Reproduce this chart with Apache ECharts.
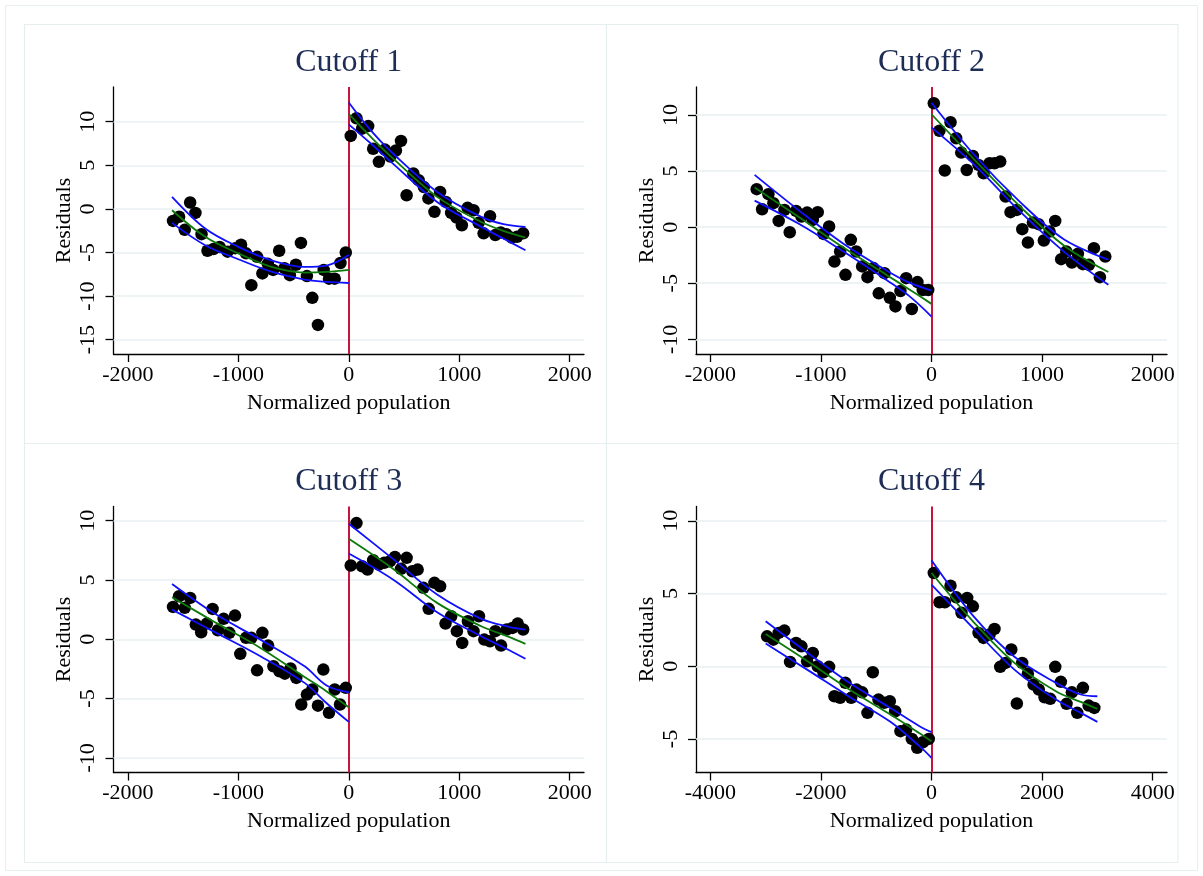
<!DOCTYPE html>
<html><head><meta charset="utf-8">
<script src="https://cdn.jsdelivr.net/npm/echarts@6/dist/echarts.min.js"></script>
<style>html,body{margin:0;padding:0;background:#fff}#c{width:1203px;height:876px}</style>
</head><body><div id="c"></div>
<script>
// ---------------- DATA ----------------
const titles = ['Cutoff 1', 'Cutoff 2', 'Cutoff 3', 'Cutoff 4'];
const xName = 'Normalized population';
const yName = 'Residuals';

const xTicksA = [-2000, -1000, 0, 1000, 2000];
const xTicksB = [-4000, -2000, 0, 2000, 4000];
const yTicks1 = [-15, -10, -5, 0, 5, 10];
const yTicks2 = [-10, -5, 0, 5, 10];
const yTicks3 = [-10, -5, 0, 5, 10];
const yTicks4 = [-5, 0, 5, 10];

// Cutoff 1 binned residuals
const c1x = [-1591,-1536,-1485,-1436,-1388,-1333,-1279,-1225,-1170,-1097,-1027,-975,-930,-882,-830,-782,-733,-685,-630,-582,-533,-479,-433,-379,-330,-279,-227,-179,-127,-75,-27,
  18,70,120,176,221,273,327,376,427,473,524,585,633,680,721,776,827,879,927,976,1024,1076,1130,1176,1221,1279,1327,1376,1427,1476,1524,1579];
const c1y = [-1.38,-0.9,-2.4,0.73,-0.46,-2.9,-4.8,-4.6,-4.36,-4.9,-4.5,-4.1,-5.1,-8.75,-5.5,-7.4,-6.3,-7.0,-4.8,-6.8,-7.6,-6.4,-3.9,-7.7,-10.2,-13.3,-7.0,-8.0,-8.0,-6.2,-5.0,
  8.37,10.4,9.2,9.5,6.9,5.4,6.8,6.0,6.7,7.8,1.57,4.06,3.3,2.5,1.2,-0.34,1.95,0.8,-0.46,-1.0,-1.87,0.12,-0.15,-1.6,-2.8,-0.84,-3.0,-2.7,-2.9,-3.3,-3.2,-2.8];
const c1LeftX = [-1600,-1300,-1000,-700,-400,-200,0];
const c1LeftFit = [-0.15,-3.2,-5.1,-6.65,-7.3,-7.22,-7.0];
const c1LeftHi  = [1.38,-2.25,-4.36,-5.9,-6.65,-6.5,-5.3];
const c1LeftLo  = [-1.6,-4.16,-5.77,-7.2,-8.1,-8.37,-8.5];
const c1RightX = [0,200,400,800,1200,1400,1600];
const c1RightFit = [10.9,8.26,5.8,1.38,-1.5,-2.52,-3.3];
const c1RightHi  = [12.2,9.0,6.35,1.95,-0.92,-1.75,-2.06];
const c1RightLo  = [9.7,7.5,5.2,0.8,-2.06,-3.4,-4.74];

// Cutoff 2
const c2x = [-1581,-1532,-1475,-1430,-1382,-1330,-1282,-1225,-1176,-1125,-1074,-1029,-977,-926,-878,-826,-778,-730,-681,-627,-579,-525,-477,-425,-377,-326,-281,-229,-178,-127,-79,-30,
  21,72,120,172,223,269,319,374,425,471,525,570,622,670,715,772,821,872,917,968,1016,1068,1119,1173,1219,1270,1324,1369,1424,1469,1523,1572];
const c2y = [3.39,1.6,2.94,2.14,0.56,1.54,-0.45,1.45,0.95,1.3,0.65,1.34,-0.6,0.06,-3.07,-2.17,-4.25,-1.13,-2.17,-3.5,-4.46,-3.65,-5.9,-4.1,-6.3,-7.07,-5.7,-4.55,-7.3,-4.9,-5.6,-5.6,
  11.05,8.6,5.05,9.36,7.93,6.65,5.1,6.35,5.55,4.8,5.7,5.7,5.85,2.73,1.34,1.54,-0.18,-1.37,0.41,0.27,-1.19,-0.39,0.56,-2.85,-2.17,-3.15,-2.38,-3.3,-3.36,-1.87,-4.46,-2.62];
const c2LeftX = [-1600,-1200,-800,-400,-200,0];
const c2LeftFit = [3.53,0.9,-1.8,-4.3,-5.55,-6.84];
const c2LeftHi  = [4.66,1.5,-1.45,-3.9,-4.95,-5.65];
const c2LeftLo  = [2.37,0.3,-2.15,-4.75,-6.15,-7.97];
const c2RightX = [0,400,800,1200,1600];
const c2RightFit = [10.07,5.9,1.85,-1.65,-4.0];
const c2RightHi  = [11.1,6.3,2.25,-1.1,-2.9];
const c2RightLo  = [8.9,5.45,1.4,-2.2,-5.14];

// Cutoff 3
const c3x = [-1591,-1536,-1485,-1436,-1385,-1336,-1285,-1233,-1185,-1133,-1082,-1030,-982,-930,-882,-830,-782,-730,-682,-627,-579,-527,-475,-430,-379,-330,-279,-230,-179,-127,-79,-27,
  18,70,121,170,221,273,321,373,418,473,524,576,624,676,724,776,827,876,927,979,1027,1079,1130,1179,1227,1279,1327,1379,1430,1482,1530,1579];
const c3y = [2.73,3.63,2.65,3.49,1.24,0.59,1.32,2.56,0.76,1.72,0.54,2.0,-1.23,0.12,0.12,-2.62,0.54,-0.53,-2.28,-2.7,-2.9,-2.47,-3.26,-5.5,-4.67,-4.24,-5.6,-2.56,-6.2,-4.24,-5.5,-4.1,
  6.22,9.8,6.16,5.88,6.67,6.3,6.45,6.58,6.95,5.94,6.87,5.74,5.88,4.34,2.57,4.76,4.47,1.32,1.94,0.68,-0.31,1.52,0.68,1.94,-0.03,-0.17,0.68,-0.53,0.82,0.96,1.32,0.82];
const c3LeftX = [-1600,-1200,-800,-400,-200,0];
const c3LeftFit = [3.55,1.38,-0.73,-3.18,-4.4,-5.74];
const c3LeftHi  = [4.67,2.08,-0.03,-2.28,-3.9,-4.47];
const c3LeftLo  = [2.5,0.54,-1.43,-3.68,-5.4,-6.97];
const c3RightX = [0,400,800,1200,1450,1600];
const c3RightFit = [8.47,5.94,3.07,1.1,0.2,-0.39];
const c3RightHi  = [9.74,6.78,3.77,1.72,1.05,0.82];
const c3RightLo  = [7.23,5.04,2.28,0.25,-0.9,-1.65];

// Cutoff 4
const c4x = [-2974,-2860,-2764,-2661,-2558,-2449,-2353,-2250,-2148,-2058,-1955,-1852,-1756,-1653,-1557,-1453,-1357,-1254,-1158,-1062,-959,-856,-755,-657,-561,-458,-356,-259,-157,-49,
  42,145,241,344,447,543,646,748,851,941,1050,1140,1243,1339,1443,1544,1641,1743,1846,1942,2045,2148,2239,2340,2443,2539,2637,2739,2842,2945];
const c4y = [2.06,1.83,2.29,2.45,0.3,1.6,1.37,0.34,0.92,0.0,-0.41,-0.04,-2.06,-2.17,-1.14,-2.17,-1.6,-1.79,-3.2,-0.41,-2.29,-2.51,-2.4,-3.09,-4.46,-4.35,-4.99,-5.6,-5.22,-4.99,
  6.41,4.4,4.4,5.54,4.74,3.67,4.7,4.12,2.29,1.95,2.18,2.57,-0.04,0.23,1.15,-2.56,0.23,-0.5,-1.26,-1.6,-2.13,-2.24,-0.04,-1.07,-2.58,-1.79,-3.2,-1.48,-2.7,-2.86];
const c4LeftX = [-3000,-2250,-1500,-750,-217,0];
const c4LeftFit = [2.22,0.37,-1.56,-3.3,-4.6,-5.15];
const c4LeftHi  = [3.09,0.95,-1.1,-2.85,-4.12,-4.53];
const c4LeftLo  = [1.56,-0.23,-2.06,-3.8,-5.49,-6.29];
const c4RightX = [0,750,1500,2250,2700,3000];
const c4RightFit = [6.41,3.09,0.23,-1.72,-2.45,-2.93];
const c4RightHi  = [7.28,3.48,0.65,-1.14,-1.94,-2.06];
const c4RightLo  = [5.61,2.64,-0.23,-2.29,-3.2,-3.82];

// ---------------- LAYOUT ----------------
const FONT = "'Liberation Serif','Times New Roman',serif";
const panels = [
  {title: titles[0], px: 24.5, py: 24.5, pw: 582, grid: {left: 113.5, top: 87, width: 470.5, height: 267}, xr: [-2130, 2130], yr: [-16.64, 13.98], xt: xTicksA, yt: yTicks1,
   sx: c1x, sy: c1y, lx: c1LeftX, lf: c1LeftFit, lh: c1LeftHi, ll: c1LeftLo, rx: c1RightX, rf: c1RightFit, rh: c1RightHi, rl: c1RightLo},
  {title: titles[1], px: 606.5, py: 24.5, pw: 571.5, grid: {left: 696, top: 87, width: 471, height: 267}, xr: [-2130, 2130], yr: [-11.31, 12.5], xt: xTicksA, yt: yTicks2,
   sx: c2x, sy: c2y, lx: c2LeftX, lf: c2LeftFit, lh: c2LeftHi, ll: c2LeftLo, rx: c2RightX, rf: c2RightFit, rh: c2RightHi, rl: c2RightLo},
  {title: titles[2], px: 24.5, py: 443.5, pw: 582, grid: {left: 113.5, top: 506.5, width: 470.5, height: 266}, xr: [-2130, 2130], yr: [-11.24, 11.2], xt: xTicksA, yt: yTicks3,
   sx: c3x, sy: c3y, lx: c3LeftX, lf: c3LeftFit, lh: c3LeftHi, ll: c3LeftLo, rx: c3RightX, rf: c3RightFit, rh: c3RightHi, rl: c3RightLo},
  {title: titles[3], px: 606.5, py: 443.5, pw: 571.5, grid: {left: 696, top: 506.5, width: 471, height: 266}, xr: [-4260, 4260], yr: [-7.3, 10.98], xt: xTicksB, yt: yTicks4,
   sx: c4x, sy: c4y, lx: c4LeftX, lf: c4LeftFit, lh: c4LeftHi, ll: c4LeftLo, rx: c4RightX, rf: c4RightFit, rh: c4RightHi, rl: c4RightLo}
];
const PANEL_H = 419;
const BORDER = '#e6eef0';
const GRIDC = '#e8eff2';
const RED = '#c8143c';
const BLUE = '#1010ff';
const GREEN = '#0b7a0b';

const zip = (a, b) => a.map((v, i) => [v, b[i]]);
const plain = v => String(v);

const grids = [], xAxes = [], yAxes = [], series = [];
const graphics = [
  {type: 'rect', shape: {x: 5.5, y: 5.5, width: 1192, height: 865}, style: {fill: '#fff', stroke: BORDER, lineWidth: 1}, z: -10, silent: true}
];

panels.forEach((p, i) => {
  graphics.push({type: 'rect', shape: {x: p.px, y: p.py, width: p.pw, height: PANEL_H}, style: {fill: '#fff', stroke: BORDER, lineWidth: 1.2}, z: -9, silent: true});
  graphics.push({type: 'text', x: p.grid.left + p.grid.width / 2, y: p.py + 38, z: 10,
    style: {text: p.title, font: "32px " + FONT, fill: '#1e2d55', textAlign: 'center', textVerticalAlign: 'middle'}});

  grids.push(Object.assign({containLabel: false, outerBoundsMode: 'none'}, p.grid));
  xAxes.push({
    gridIndex: i, type: 'value', min: p.xr[0], max: p.xr[1],
    name: xName, nameLocation: 'middle', nameGap: 38, nameMoveOverlap: false,
    nameTextStyle: {fontFamily: FONT, fontSize: 22, color: '#000'},
    axisLine: {onZero: false, lineStyle: {color: '#000', width: 1.3}},
    axisTick: {customValues: p.xt, length: 8, lineStyle: {color: '#000', width: 1.3}},
    axisLabel: {customValues: p.xt, formatter: plain, fontFamily: FONT, fontSize: 22, color: '#000', margin: 10},
    splitLine: {show: false}
  });
  yAxes.push({
    gridIndex: i, type: 'value', min: p.yr[0], max: p.yr[1],
    name: yName, nameLocation: 'middle', nameGap: 38, nameRotate: 90, nameMoveOverlap: false,
    nameTextStyle: {fontFamily: FONT, fontSize: 22, color: '#000'},
    axisLine: {onZero: false, lineStyle: {color: '#000', width: 1.3}},
    axisTick: {customValues: p.yt, length: 8, lineStyle: {color: '#000', width: 1.3}},
    axisLabel: {customValues: p.yt, formatter: plain, rotate: 90, fontFamily: FONT, fontSize: 22, color: '#000', margin: 14},
    splitLine: {show: false}
  });
  series.push({
    type: 'scatter', xAxisIndex: i, yAxisIndex: i, z: 3,
    symbol: 'circle', symbolSize: 12.5, itemStyle: {color: '#000', opacity: 1},
    data: zip(p.sx, p.sy), silent: true,
    markLine: {
      silent: true, z: 1, symbol: ['none', 'none'], label: {show: false}, animation: false,
      data: p.yt.map(v => ({yAxis: v, lineStyle: {color: GRIDC, width: 1.5, type: 'solid'}}))
        .concat([{xAxis: 0, lineStyle: {color: RED, width: 2, type: 'solid'}}])
    }
  });
  const mk = (xs, ys, color) => ({
    type: 'line', xAxisIndex: i, yAxisIndex: i, z: 4, data: zip(xs, ys),
    smooth: 0.35, symbol: 'none', showSymbol: false, silent: true,
    lineStyle: {color: color, width: 1.8}
  });
  series.push(mk(p.lx, p.lh, BLUE), mk(p.lx, p.ll, BLUE), mk(p.lx, p.lf, GREEN));
  series.push(mk(p.rx, p.rh, BLUE), mk(p.rx, p.rl, BLUE), mk(p.rx, p.rf, GREEN));
});

const chart = echarts.init(document.getElementById('c'), null, {renderer: 'canvas'});
chart.setOption({
  animation: false,
  backgroundColor: '#fff',
  grid: grids, xAxis: xAxes, yAxis: yAxes, series: series,
  graphic: {elements: graphics}
});
</script></body></html>
